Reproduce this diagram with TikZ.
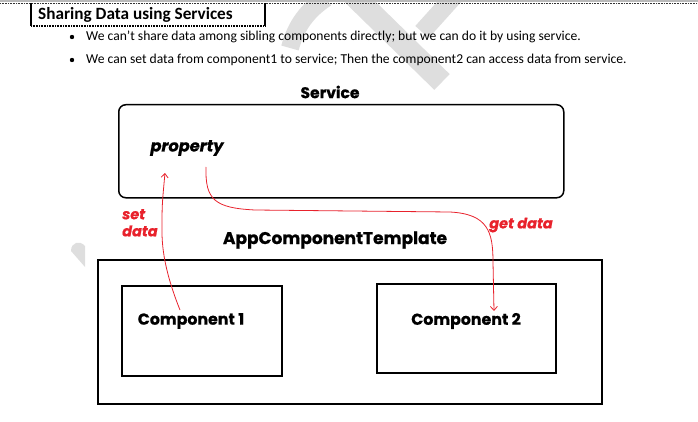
\documentclass[tikz,border=0pt]{standalone}
\usepackage{fontspec}
\setmainfont{Carlito}
\newfontfamily\popp{Poppins}[BoldFeatures={FakeBold=0.8}, BoldItalicFeatures={FakeBold=0.8}]
\usetikzlibrary{arrows.meta}
\definecolor{wmgray}{HTML}{DEDEDE}
\definecolor{arrred}{HTML}{E8222C}
\tikzset{
  box/.style={draw, line width=1.5pt, inner sep=0pt},
  dlabel/.style={font=\popp\bfseries, inner sep=0pt},
  redlabel/.style={font=\popp\bfseries\itshape\fontsize{14.5}{17}\selectfont, text=arrred, inner sep=0pt},
  redarrow/.style={draw=arrred, line width=0.8pt, -{Straight Barb[length=4pt,width=7pt]}},
  bodytext/.style={font=\fontsize{13.6}{15}\selectfont, anchor=west, inner sep=0pt},
  wm/.style={draw=wmgray, line cap=round}
}
\begin{document}
\begin{tikzpicture}[x=1pt,y=-1pt]
\useasboundingbox (0,0) rectangle (698,422);
% watermark
\draw[wm, line width=22pt, line cap=butt] (350,-8) -- (442,82);
\draw[wm, line width=18pt, line cap=butt] (290,48) .. controls (296,25) and (308,10) .. (326,-2);
\draw[wm, line width=18pt, line cap=butt] (458,-8) -- (422,32);
\fill[wmgray] (71,251) .. controls (71,242) and (80,240) .. (85,246) -- (85,267) -- cycle;
% top strip
\fill[gray!55] (0,0) rectangle (698,2.5);
\draw[black!80, line width=0.9pt, dash pattern=on 1pt off 0.6pt] (0,3) -- (698,3);
% title box
\draw[line width=1.3pt] (31,3) -- (31,26);
\draw[line width=1.3pt] (265,3) -- (265,26);
\draw[black, line width=1.1pt, dash pattern=on 1pt off 0.6pt] (31,26) -- (265,26);
\node[anchor=west, inner sep=0pt, font=\bfseries\fontsize{17.2}{19}\selectfont] (title) at (38,15) {Sharing Data using Services};
% bullets
\fill (72,37) circle (2.2pt);
\node[bodytext] (b1) at (86,37) {We can’t share data among sibling components directly; but we can do it by using service.};
\fill (72,60) circle (2.2pt);
\node[bodytext] (b2) at (86,60) {We can set data from component1 to service; Then the component2 can access data from service.};
% diagram
\node[dlabel, font=\popp\bfseries\fontsize{15.5}{18}\selectfont] (svclbl) at (330,92) {Service};
\node[box, rounded corners=7pt, minimum width=445pt, minimum height=93pt, anchor=north west] (service) at (118,104) {};
\node[dlabel, font=\popp\bfseries\itshape\fontsize{16.2}{18}\selectfont] (prop) at (187,148) {property};
\node[dlabel, font=\popp\bfseries\fontsize{17}{19}\selectfont] (app) at (335,240) {AppComponentTemplate};
\node[box, minimum width=504pt, minimum height=144pt, anchor=north west] (appbox) at (97,259) {};
\node[box, minimum width=160pt, minimum height=90pt, anchor=north west] (c1) at (121,285) {};
\node[box, minimum width=179pt, minimum height=89pt, anchor=north west] (c2) at (376,283) {};
\node[dlabel, font=\popp\bfseries\fontsize{15.8}{18}\selectfont] (c1t) at (191,321) {Component 1};
\node[dlabel, font=\popp\bfseries\fontsize{15.8}{18}\selectfont] (c2t) at (466,321) {Component 2};
% arrows
\coordinate (setfrom) at (180,310);
\coordinate (setto) at (165,173);
\coordinate (getfrom) at (206,167);
\coordinate (getto) at (494,311);
\draw[redarrow] (setfrom) .. controls (170,285) and (162,258) .. (162,232) .. controls (162,205) .. (setto);
\draw[redarrow] (getfrom) .. controls (205,200) and (215,208) .. (255,210) -- (450,212) .. controls (488,214) and (493,232) .. (493,262) -- (getto);
\node[redlabel, anchor=north west, align=left] (setlbl) at (122,209) {set\\data};
\node[redlabel] (getlbl) at (521,225) {get data};
\end{tikzpicture}
\end{document}
